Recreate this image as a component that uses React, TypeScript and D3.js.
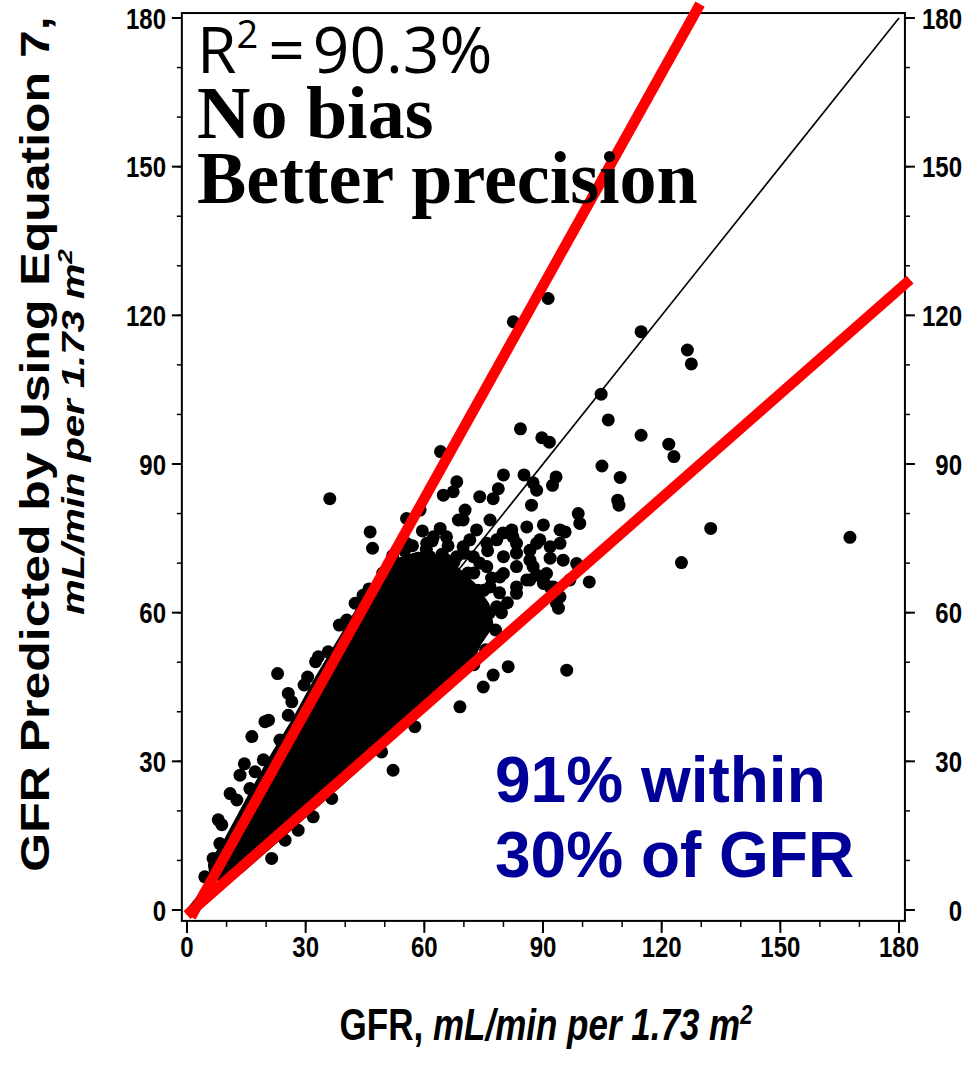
import React from 'react';
import * as d3 from 'd3';

// axis ticks (both axes 0..180)
const majorTicks = [0, 30, 60, 90, 120, 150, 180];
const minorTicks = d3.range(0, 181, 10);
const frameX = [-1.3, 181.5];
const frameY = [-2.2, 181];

const outerPoints: [number, number][] = [
  [91.3, 123.4], [82.5, 118.7], [114.8, 116.7], [126.5, 113], [127.5, 110.2],
  [104.7, 104.1], [106.5, 98.9], [114.8, 95.8], [84.3, 97.1], [89.7, 95.3],
  [91.6, 94.4], [121.8, 94], [123.1, 91.5], [104.9, 89.6], [109.5, 87.3],
  [108.9, 82.7], [109.2, 81.7], [132.4, 77], [167.6, 75.2], [125, 70.1],
  [101.7, 66.2], [98.9, 80], [99.3, 78], [93.3, 87.4], [92.4, 85.7],
  [87.1, 81.7], [88.4, 84.7], [87.5, 86.2], [85.2, 87.8], [80, 87.8],
  [78.7, 85], [77.4, 83], [68.2, 86.4], [67.3, 84.4], [74, 83.4],
  [91.8, 71], [94.3, 76.7], [95.6, 76.3], [98.5, 69.9], [70.3, 80.7],
  [68.6, 78.7], [85.9, 77.3], [90.1, 77.7], [88.4, 74], [94.3, 74],
  [82.4, 75.3], [36.1, 83], [64.1, 92.5], [46.3, 76.3], [46.9, 73],
  [64.8, 83.7], [96, 48.4], [93.4, 61.9], [93.9, 60.9], [81.2, 49.1],
  [77.4, 47.4], [74.9, 45], [69, 41], [52.1, 28.2], [57.6, 37],
  [49.2, 31.9], [61, 46], [88.4, 67.6], [90.1, 65.9], [92.6, 65.2],
  [82.1, 76.7], [86.7, 72.6], [64, 77], [62.3, 75.3], [60.6, 74],
  [55.5, 79], [85.9, 66.6], [94.3, 63.2],
];

// points near the origin, outside the two 30% lines
const lowPoints: [number, number][] = [
  [22.9, 47.7], [32.5, 50.1], [33.2, 51.1], [35.7, 52.1], [40.4, 58.5],
  [42.5, 61.9], [29.6, 45.4], [25.6, 43.7], [26.5, 42], [20.6, 38.3],
  [19.7, 38], [16.4, 35], [19.3, 30.3], [17.2, 27.9], [13.4, 27.2],
  [10.9, 23.5], [12.6, 22.2], [7.9, 18.2], [8.8, 17.2], [8.3, 13.4],
  [15.9, 24.5], [25.6, 39.3], [23.5, 34.3], [6.6, 10.4], [4.5, 6.7],
  [24.8, 14.1], [31.9, 18.8], [36.6, 22.5], [21.4, 10.4], [28.1, 16.1],
  [38.5, 57.5], [44.5, 63.5], [30.5, 47], [14.5, 29.5],
];

// points at the fringe of the dense cloud
const fringePoints: [number, number][] = [
  [75.8, 74], [78.3, 74.7], [81.6, 76], [83.3, 74], [80, 71.3],
  [83.3, 69.3], [86.7, 70.6], [89.2, 74.7], [91.8, 73.3], [95.1, 70.6],
  [96.8, 66.6], [90.9, 67.9], [86.7, 66.6], [83.3, 65.2], [79.1, 67.2],
  [75.8, 69.3], [72.4, 71.3], [69.8, 73.3], [68.2, 71.3], [65.6, 70.6],
  [61.4, 71.3], [57.2, 70.6], [71.5, 74.7], [73.2, 76.7], [69.8, 78.7],
  [76.6, 78.7], [79.9, 76.1], [65.6, 75.3], [58.9, 80.7], [55.5, 74],
  [53, 69.3], [83.3, 72], [87.5, 69.3], [90.1, 66.6], [91.8, 65.2],
  [80, 67.9], [76.6, 65.2], [73.2, 62.5], [71.5, 59.2], [78.3, 61.2],
  [74.9, 57.2], [70.7, 54.5], [68.2, 51.8], [64.8, 49.8], [61.4, 47.1],
  [83.3, 63.9], [66, 73.5], [62, 74.5], [70, 72], [74, 70],
  [77, 67], [79, 64], [81, 62], [79.5, 60], [76, 72.5],
  [72.5, 68], [75, 64.5], [59.5, 76.5], [57, 73.5], [63.5, 68.5],
  [52, 71.5], [55, 72.5], [60.5, 72.8], [64.5, 71.8], [67.5, 70.2],
  [71, 68], [73.5, 64.5], [76.5, 60], [78, 56.5], [75.5, 52.5],
  [72.5, 49.5], [49.5, 68], [46, 64.8],
];

// outline of the solid black core where dots fully overlap
const coreOutline: [number, number][] = [
  [6.8, 6.5], [6.3, 9.1], [10.4, 14.1], [15.9, 22.2], [21.5, 30.3],
  [27.6, 38.3], [33.1, 46.4], [39.2, 54.5], [43.7, 60.5], [47.5, 64.6],
  [53.1, 70.2], [58.5, 71.5], [63.5, 70.5], [68, 68.5], [72, 65.5],
  [75.5, 61.5], [76.5, 57.5], [73.5, 54], [71.5, 50.4],
  [69, 48], [53.8, 36.7], [38.7, 25.8], [23.5, 15.1], [13.4, 8.1],
];

const identityLine: [number, number][] = [[0, 0], [180, 180]];
const upperBand: [number, number][] = [[1.0, -1.4], [129.7, 182.8]];
const lowerBand: [number, number][] = [[0, -1], [182.8, 127.2]];

const x = d3.scaleLinear().domain([0, 180]).range([187, 899]);
const y = d3.scaleLinear().domain([0, 180]).range([910, 18]);

const line = d3
  .line<[number, number]>()
  .x((d) => x(d[0]))
  .y((d) => y(d[1]));

const tickFont = '"Liberation Sans", Arial, sans-serif';
const serif = '"Liberation Serif", "Times New Roman", serif';

export default function App() {
  const allPoints = [...outerPoints, ...lowPoints, ...fringePoints];
  const left = x(frameX[0]);
  const right = x(frameX[1]);
  const top = y(frameY[1]);
  const bottom = y(frameY[0]);

  return (
    <div style={{ position: 'absolute', left: 0, top: 0 }}>
      <svg width={976} height={1067} style={{ display: 'block', background: '#fff' }}>
        {/* frame */}
        <rect
          x={left}
          y={top}
          width={right - left}
          height={bottom - top}
          fill="none"
          stroke="#000"
          strokeWidth={2}
        />

        {/* minor ticks */}
        {minorTicks.map((t) => (
          <g key={'m' + t} stroke="#000" strokeWidth={1.5}>
            <line x1={left - 5} x2={left} y1={y(t)} y2={y(t)} />
            <line x1={right} x2={right + 5} y1={y(t)} y2={y(t)} />
            <line x1={x(t)} x2={x(t)} y1={bottom} y2={bottom + 6} />
          </g>
        ))}

        {/* major ticks + labels */}
        {majorTicks.map((t) => (
          <g key={'M' + t}>
            <g stroke="#000" strokeWidth={2}>
              <line x1={left - 10} x2={left} y1={y(t)} y2={y(t)} />
              <line x1={right} x2={right + 10} y1={y(t)} y2={y(t)} />
              <line x1={x(t)} x2={x(t)} y1={bottom} y2={bottom + 12} />
            </g>
            <text
              transform={`translate(166,${y(t) + 10.5}) scale(1,1.25)`}
              textAnchor="end"
              fontFamily={tickFont}
              fontWeight="bold"
              fontSize={24}
            >
              {t}
            </text>
            <text
              transform={`translate(962,${y(t) + 10.5}) scale(1,1.25)`}
              textAnchor="end"
              fontFamily={tickFont}
              fontWeight="bold"
              fontSize={24}
            >
              {t}
            </text>
            <text
              transform={`translate(${x(t)},957) scale(1,1.25)`}
              textAnchor="middle"
              fontFamily={tickFont}
              fontWeight="bold"
              fontSize={24}
            >
              {t}
            </text>
          </g>
        ))}

        {/* identity line */}
        <path d={line(identityLine) || ''} stroke="#000" strokeWidth={1.6} fill="none" />

        {/* dense core */}
        <path
          d={(line(coreOutline) || '') + 'Z'}
          fill="#000"
          stroke="#000"
          strokeWidth={8}
          strokeLinejoin="round"
        />

        {/* points */}
        {allPoints.map((d, i) => (
          <circle key={i} cx={x(d[0])} cy={y(d[1])} r={6.5} fill="#000" />
        ))}

        {/* 30% limits */}
        <path d={line(upperBand) || ''} stroke="#ff0000" strokeWidth={10.5} fill="none" />
        <path d={line(lowerBand) || ''} stroke="#ff0000" strokeWidth={10.5} fill="none" />

        {/* axis titles */}
        <text
          transform="translate(49,444) rotate(-90) scale(1.25,1)"
          textAnchor="middle"
          fontFamily={tickFont}
          fontWeight="bold"
          fontSize={40}
        >
          GFR Predicted by Using Equation 7,
        </text>
        <text
          transform="translate(84,432) rotate(-90) scale(1.25,1)"
          textAnchor="middle"
          fontFamily={tickFont}
          fontWeight="bold"
          fontStyle="italic"
          fontSize={32}
        >
          mL/min per 1.73 m<tspan dy={-12} fontSize={21}>2</tspan>
        </text>
        <text
          transform="translate(546,1040) scale(1,1.25)"
          textAnchor="middle"
          fontFamily={tickFont}
          fontWeight="bold"
          fontSize={35}
        >
          GFR,{' '}
          <tspan fontStyle="italic">
            mL/min per 1.73 m<tspan dy={-13} fontSize={22}>2</tspan>
          </tspan>
        </text>

        {/* annotations */}
        <text x={197} y={73} fontFamily='"Open Sans", "Noto Sans", sans-serif' fontSize={64}>
          R<tspan dy={-25} fontSize={38}>2</tspan>
          <tspan dy={25} dx={10}>=</tspan>
          <tspan dx={8}>90.3%</tspan>
        </text>
        <text x={197} y={138} fontFamily={serif} fontWeight="bold" fontSize={74}>
          No bias
        </text>
        <text x={197} y={203} fontFamily={serif} fontWeight="bold" fontSize={74}>
          Better precision
        </text>
        <text x={495} y={802} fontFamily={tickFont} fontWeight="bold" fontSize={64} fill="#000099">
          91% within
        </text>
        <text x={495} y={877} fontFamily={tickFont} fontWeight="bold" fontSize={64} fill="#000099">
          30% of GFR
        </text>
      </svg>
    </div>
  );
}
